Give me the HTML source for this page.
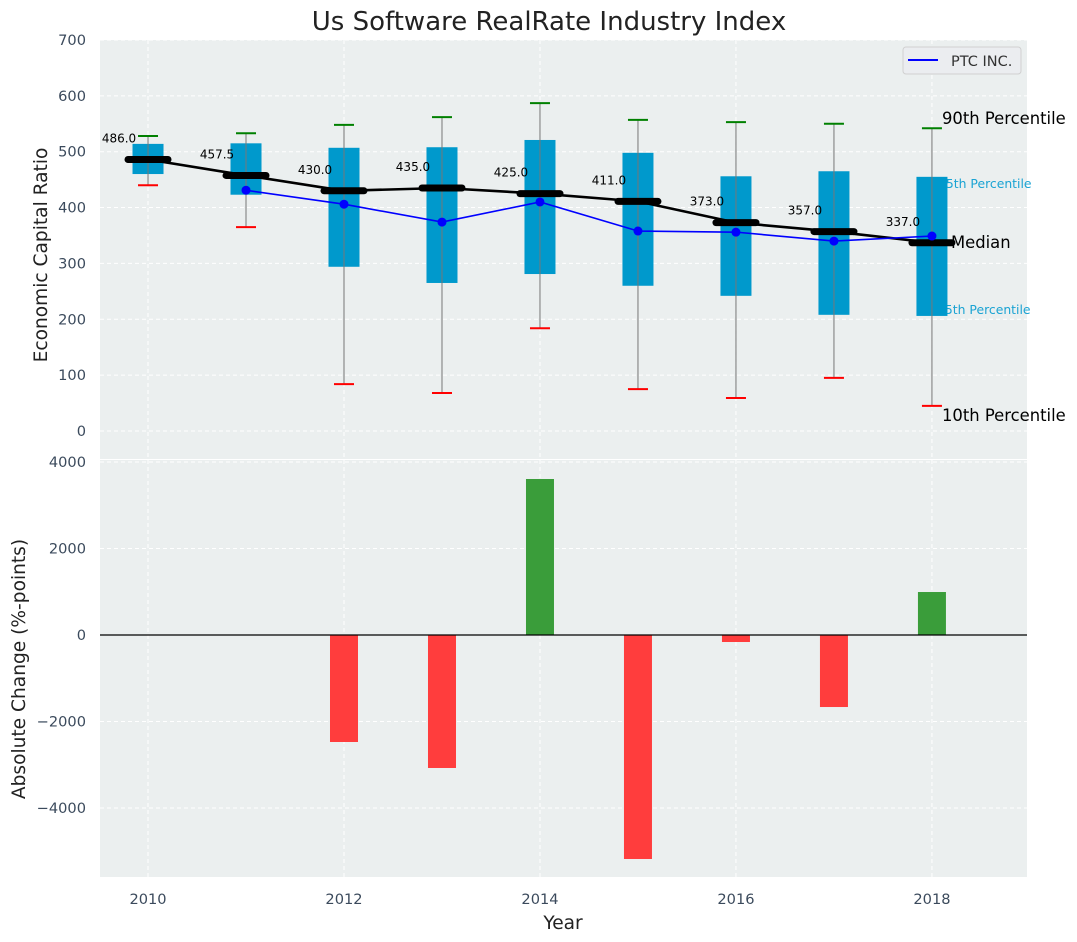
<!DOCTYPE html>
<html><head><meta charset="utf-8"><style>
html,body{margin:0;padding:0;background:#fff}
svg{display:block;font-family:"DejaVu Sans","Liberation Sans",sans-serif}
</style></head><body>
<svg id="chart" width="1077" height="942" viewBox="0 0 1077 942">
<g id="topgrp"></g><g id="botgrp"></g>
</svg>
<script>
const years=[2010,2011,2012,2013,2014,2015,2016,2017,2018];
const p10=[440,365,84,68,184,75,59,95,45];
const p25=[460,423,294,265,281,260,242,208,206];
const medians=[486,457.5,430,435,425,411,373,357,337];
const p75=[514,515,507,508,521,498,456,465,455];
const p90=[528,533,548,562,587,557,553,550,542];
const ptc=[null,431,406,374,410,358,356,340,349];
const changes=[0,0,-2474,-3075,3607,-5179,-162,-1665,994];
const topTicks=[0,100,200,300,400,500,600,700];
const botTicks=[-4000,-2000,0,2000,4000];
const xTicks=[2010,2012,2014,2016,2018];

const NS='http://www.w3.org/2000/svg';
function mk(parent,tag,attrs,text){const el=document.createElementNS(NS,tag);for(const k in attrs)el.setAttribute(k,attrs[k]);if(text!==undefined)el.textContent=text;parent.appendChild(el);return el;}
const L=100,R=1027;
const x=v=>L+(v-2009.51)*(R-L)/(2018.97-2009.51);
const yT=v=>431-v*0.5586;
const yB=v=>635-v*0.04325;
const svgEl=document.getElementById('chart');
const gTop=document.getElementById('topgrp'),gBot=document.getElementById('botgrp');
const tc='#3b4a5c';
let e;

e=mk(gTop,'rect',{x:L,y:40,width:R-L,height:419,fill:'#ebefef'});


e=mk(gBot,'rect',{x:L,y:460,width:R-L,height:417,fill:'#ebefef'});



topTicks.forEach(t=>{mk(gTop,'line',{x1:L,x2:R,y1:yT(t),y2:yT(t),stroke:'#fff','stroke-dasharray':'4,3','stroke-width':1});
 e=mk(gTop,'text',{x:86,y:yT(t)+5,'text-anchor':'end','font-size':14.6,fill:tc},t);
 
 });
botTicks.forEach(t=>{mk(gBot,'line',{x1:L,x2:R,y1:yB(t),y2:yB(t),stroke:'#fff','stroke-dasharray':'4,3','stroke-width':1});
 e=mk(gBot,'text',{x:86,y:yB(t)+5,'text-anchor':'end','font-size':14.6,fill:tc},t<0?'\u2212'+Math.abs(t):t);
 
 });
xTicks.forEach(t=>{mk(gTop,'line',{x1:x(t),x2:x(t),y1:40,y2:459,stroke:'#fff','stroke-dasharray':'4,3'});
 mk(gBot,'line',{x1:x(t),x2:x(t),y1:460,y2:877,stroke:'#fff','stroke-dasharray':'4,3'});
 e=mk(gBot,'text',{x:x(t),y:904,'text-anchor':'middle','font-size':14.6,fill:tc},t);
 
 });

const ann=[[942,124,'90th Percentile',16.4,'#000'],[938,188,'75th Percentile',12.4,'#1aa3d3'],[951,248,'Median',16.4,'#000'],[937,314,'25th Percentile',12.4,'#1aa3d3'],[942,421,'10th Percentile',16.4,'#000']];
ann.forEach(a=>{e=mk(gTop,'text',{x:a[0],y:a[1],'font-size':a[3],fill:a[4]},a[2]);
 
 });

years.forEach((yr,i)=>{const cx=x(yr);
 const g=mk(gTop,'g',{});
 
 
 mk(g,'rect',{x:cx-15.5,y:yT(p75[i]),width:31,height:yT(p25[i])-yT(p75[i]),fill:'#0099cc'});
 mk(g,'line',{x1:cx,x2:cx,y1:yT(p90[i]),y2:yT(p10[i]),stroke:'#777','stroke-width':1});
 mk(g,'line',{x1:cx-10,x2:cx+10,y1:yT(p90[i]),y2:yT(p90[i]),stroke:'green','stroke-width':2});
 mk(g,'line',{x1:cx-10,x2:cx+10,y1:yT(p10[i]),y2:yT(p10[i]),stroke:'red','stroke-width':2});
});
e=mk(gTop,'polyline',{points:years.map((yr,i)=>x(yr)+','+yT(medians[i])).join(' '),fill:'none',stroke:'#000','stroke-width':2.6});


years.forEach((yr,i)=>{const cx=x(yr);
 e=mk(gTop,'line',{x1:cx-20,x2:cx+20,y1:yT(medians[i]),y2:yT(medians[i]),stroke:'#000','stroke-width':7,'stroke-linecap':'round'});
 
 
 e=mk(gTop,'text',{x:cx-29,y:yT(medians[i])-17,'text-anchor':'middle','font-size':12,fill:'#000'},medians[i].toFixed(1));
 
 
});
const pp=[];years.forEach((yr,i)=>{if(ptc[i]!==null)pp.push([x(yr),yT(ptc[i])]);});
e=mk(gTop,'polyline',{points:pp.map(p=>p.join(',')).join(' '),fill:'none',stroke:'#0000ff','stroke-width':1.6});


pp.forEach(p=>{e=mk(gTop,'circle',{cx:p[0],cy:p[1],r:4.5,fill:'#0000ff'});
 
 });

const lg=mk(gTop,'g',{});


mk(lg,'rect',{x:903,y:47,width:118,height:27,rx:3,fill:'#ebedf0',stroke:'#d0d0d0'});
mk(lg,'line',{x1:908,x2:938,y1:60,y2:60,stroke:'#0000ff','stroke-width':2});
mk(lg,'text',{x:951,y:66,'font-size':14.5,fill:'#333'},'PTC INC.');

years.forEach((yr,i)=>{const v=changes[i];if(v===0)return;
 e=mk(gBot,'rect',{x:x(yr)-14,y:Math.min(yB(v),yB(0)),width:28,height:Math.abs(yB(v)-yB(0)),fill:v>0?'#3a9d3a':'#ff3d3d'});
 
 });
mk(gBot,'line',{x1:L,x2:R,y1:yB(0),y2:yB(0),stroke:'#000','stroke-width':1.2});

e=mk(svgEl,'text',{x:549,y:30,'text-anchor':'middle','font-size':26,fill:'#222'},'Us Software RealRate Industry Index');


e=mk(svgEl,'text',{x:0,y:0,'text-anchor':'middle','font-size':18.6,fill:'#222',transform:'translate(47,255) rotate(-90)'},'Economic Capital Ratio');


e=mk(svgEl,'text',{x:0,y:0,'text-anchor':'middle','font-size':18.6,fill:'#222',transform:'translate(25,669) rotate(-90)'},'Absolute Change (%-points)');


e=mk(svgEl,'text',{x:563,y:929,'text-anchor':'middle','font-size':18.6,fill:'#222'},'Year');


</script>
</body></html>
